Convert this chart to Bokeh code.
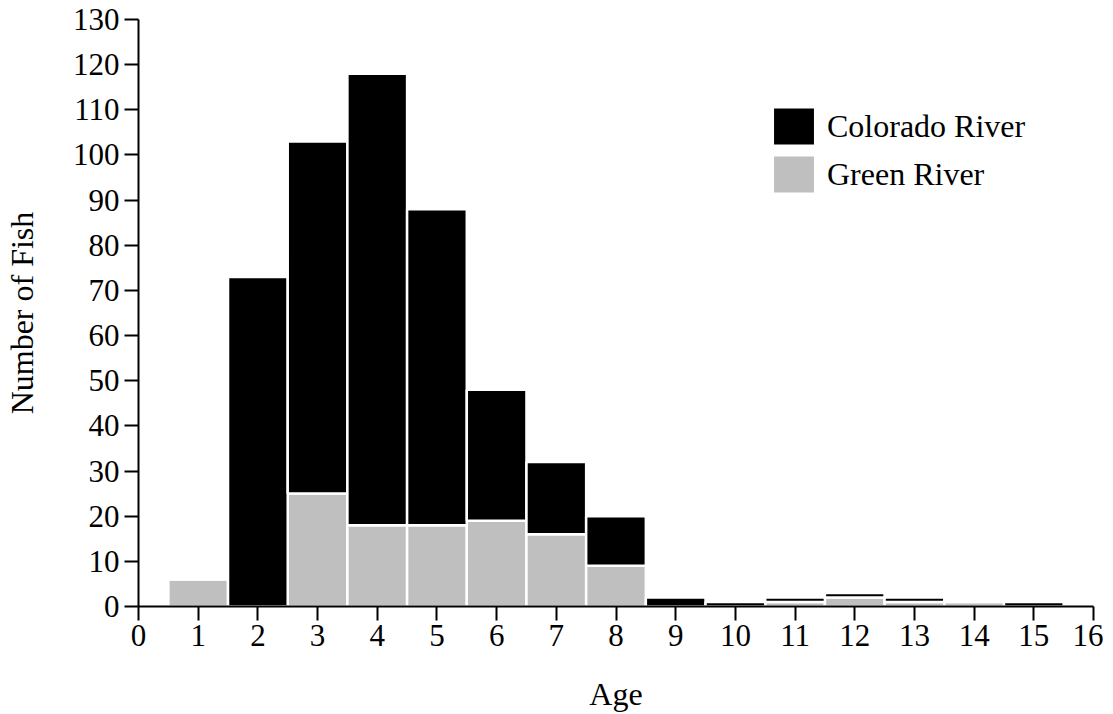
from bokeh.plotting import figure
from bokeh.models import Range1d, Legend, LegendItem, FixedTicker, ColumnDataSource
from bokeh.embed import file_html
from bokeh.resources import INLINE

# Data
ages = [1, 2, 3, 4, 5, 6, 7, 8, 9, 10, 11, 12, 13, 14, 15]
green_river = [6, 0, 25, 18, 18, 19, 16, 9, 0, 0, 1, 2, 1, 1, 0]
colorado_river = [0, 73, 78, 100, 70, 29, 16, 11, 2, 1, 1, 1, 1, 0, 1]

x_ticks = list(range(0, 17))
y_ticks = list(range(0, 131, 10))

FONT = "Liberation Serif"
GREEN_COLOR = "#bfbfbf"
COLORADO_COLOR = "#000000"

source = ColumnDataSource(data=dict(age=ages, green=green_river, colorado=colorado_river))

p = figure(
    frame_width=955, frame_height=587,
    x_range=Range1d(0, 16), y_range=Range1d(0, 130),
    output_backend="svg", toolbar_location=None,
    min_border_left=137, min_border_top=19, min_border_right=10, min_border_bottom=10,
)

rs = p.vbar_stack(["green", "colorado"], x="age", width=1.0, source=source,
                  color=[GREEN_COLOR, COLORADO_COLOR],
                  line_color="white", line_width=2.5)

legend = Legend(items=[LegendItem(label="Colorado River", renderers=[rs[1]]),
                       LegendItem(label="Green River", renderers=[rs[0]])],
                location=(629, 408))
legend.label_text_font = FONT
legend.label_text_font_size = "32px"
legend.label_text_color = "black"
legend.glyph_width = 53
legend.glyph_height = 48
legend.label_height = 40
legend.spacing = 0
legend.label_standoff = 7
legend.padding = 0
legend.margin = 0
legend.border_line_color = None
legend.background_fill_alpha = 0
p.add_layout(legend)

for ax in (p.xaxis, p.yaxis):
    ax.axis_line_color = "black"
    ax.axis_line_width = 2
    ax.major_tick_line_color = "black"
    ax.major_tick_line_width = 2
    ax.major_tick_out = 14
    ax.major_tick_in = 0
    ax.minor_tick_line_color = None
    ax.major_label_text_font = FONT
    ax.major_label_text_font_size = "31px"
    ax.major_label_text_color = "black"
    ax.axis_label_text_font = FONT
    ax.axis_label_text_font_size = "32px"
    ax.axis_label_text_color = "black"
    ax.axis_label_text_font_style = "normal"

p.xaxis.major_label_standoff = 4
p.yaxis.major_label_standoff = 5
p.xaxis.ticker = FixedTicker(ticks=x_ticks)
p.yaxis.ticker = FixedTicker(ticks=y_ticks)
p.xaxis.axis_label = "Age"
p.yaxis.axis_label = "Number of Fish"
p.xaxis.axis_label_standoff = 27
p.yaxis.axis_label_standoff = 30

p.xgrid.grid_line_color = None
p.ygrid.grid_line_color = None
p.outline_line_color = None

open("out.html", "w").write(file_html(p, INLINE))
